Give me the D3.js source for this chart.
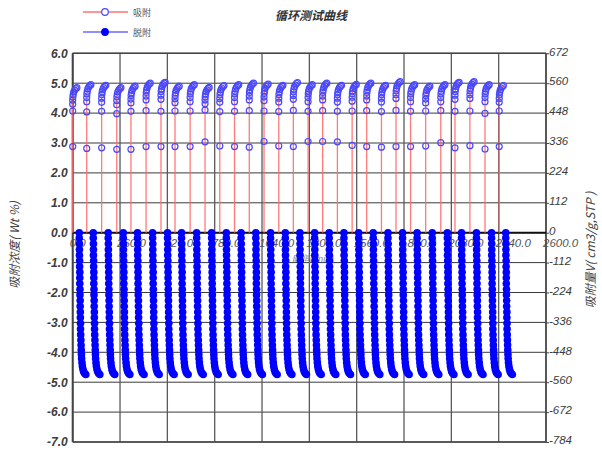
<!DOCTYPE html>
<html><head><meta charset="utf-8">
<script src="https://cdn.jsdelivr.net/npm/d3@7"></script>
<style>
body{margin:0;background:#fff;}
svg{display:block;font-family:"Liberation Sans",Arial,sans-serif;}
</style></head>
<body><svg id="c" width="602" height="470"></svg>
<script>
// ---- data ----
const title = "循环测试曲线";
const seriesNames = ["吸附", "脱附"];
const leftTitle = "吸附浓度( Wt %)";
const rightTitle = "吸附量V( cm3/g,STP )";
const xTitle = "时间(min)";
const xTicks = [0, 260, 520, 780, 1040, 1300, 1560, 1820, 2080, 2340, 2600];
const yTicks = [-7, -6, -5, -4, -3, -2, -1, 0, 1, 2, 3, 4, 5, 6];
const y2Ticks = [-784, -672, -560, -448, -336, -224, -112, 0, 112, 224, 336, 448, 560, 672];
// start time of each of the 30 cycles
const cycleStart = [0, 77, 159, 242, 320, 403, 485, 562, 645, 727, 808, 889, 970, 1051, 1132, 1212, 1293, 1373, 1454, 1535, 1615, 1696, 1776, 1856, 1939, 2022, 2100, 2182, 2265, 2343];
// adsorption: time offsets inside a cycle and values of each cycle
const adsDt = [0, 0, 0, 0, 0, 1, 3, 6, 11, 17, 23, 30];
const adsValues = [
  [0, 2.88, 4.07, 4.30, 4.43, 4.54, 4.63, 4.71, 4.77, 4.82, 4.85],
  [0, 2.82, 4.04, 4.38, 4.52, 4.64, 4.73, 4.81, 4.87, 4.92, 4.95],
  [0, 2.84, 4.06, 4.36, 4.50, 4.62, 4.71, 4.79, 4.85, 4.90, 4.93],
  [0, 2.79, 3.98, 4.28, 4.42, 4.54, 4.63, 4.71, 4.77, 4.82, 4.85],
  [0, 2.79, 4.06, 4.34, 4.47, 4.59, 4.68, 4.76, 4.82, 4.87, 4.90],
  [0, 2.88, 4.08, 4.44, 4.57, 4.69, 4.78, 4.86, 4.92, 4.97, 5.00],
  [0, 2.88, 4.06, 4.46, 4.60, 4.72, 4.81, 4.89, 4.95, 5.00, 5.03],
  [0, 2.88, 4.07, 4.35, 4.48, 4.59, 4.68, 4.76, 4.82, 4.87, 4.90],
  [0, 2.88, 4.07, 4.38, 4.52, 4.64, 4.73, 4.81, 4.87, 4.92, 4.95],
  [0, 3.04, 4.10, 4.31, 4.44, 4.55, 4.64, 4.72, 4.78, 4.83, 4.86],
  [0, 2.90, 4.05, 4.36, 4.49, 4.61, 4.70, 4.78, 4.84, 4.89, 4.92],
  [0, 2.88, 4.06, 4.38, 4.52, 4.64, 4.73, 4.81, 4.87, 4.92, 4.95],
  [0, 2.86, 4.08, 4.44, 4.57, 4.69, 4.78, 4.86, 4.92, 4.97, 5.00],
  [0, 3.05, 4.07, 4.41, 4.54, 4.66, 4.75, 4.83, 4.89, 4.94, 4.97],
  [0, 2.90, 4.05, 4.37, 4.50, 4.62, 4.71, 4.79, 4.85, 4.90, 4.93],
  [0, 2.88, 4.09, 4.46, 4.59, 4.71, 4.80, 4.88, 4.94, 4.99, 5.02],
  [0, 3.05, 4.06, 4.38, 4.52, 4.64, 4.73, 4.81, 4.87, 4.92, 4.95],
  [0, 3.05, 4.08, 4.44, 4.57, 4.69, 4.78, 4.86, 4.92, 4.97, 5.00],
  [0, 3.04, 4.06, 4.37, 4.50, 4.62, 4.71, 4.79, 4.85, 4.90, 4.93],
  [0, 2.92, 4.07, 4.40, 4.53, 4.65, 4.74, 4.82, 4.88, 4.93, 4.96],
  [0, 2.88, 4.08, 4.44, 4.57, 4.69, 4.78, 4.86, 4.92, 4.97, 5.00],
  [0, 2.86, 4.05, 4.37, 4.50, 4.62, 4.71, 4.79, 4.85, 4.90, 4.93],
  [0, 2.88, 4.09, 4.49, 4.62, 4.74, 4.83, 4.91, 4.97, 5.02, 5.05],
  [0, 2.88, 4.06, 4.38, 4.52, 4.64, 4.73, 4.81, 4.87, 4.92, 4.95],
  [0, 2.90, 4.07, 4.34, 4.47, 4.59, 4.68, 4.76, 4.82, 4.87, 4.90],
  [0, 3.01, 4.08, 4.38, 4.52, 4.64, 4.73, 4.81, 4.87, 4.92, 4.95],
  [0, 2.84, 4.06, 4.46, 4.60, 4.72, 4.81, 4.89, 4.95, 5.00, 5.03],
  [0, 2.91, 4.07, 4.49, 4.62, 4.74, 4.83, 4.91, 4.97, 5.02, 5.05],
  [0, 2.80, 3.99, 4.38, 4.52, 4.64, 4.73, 4.81, 4.87, 4.92, 4.95],
  [0, 2.88, 4.07, 4.36, 4.49, 4.61, 4.70, 4.78, 4.84, 4.89, 4.92]
];
// desorption: the same column shape is read in every cycle
const desDt = [36, 36, 37, 37, 37, 38, 38, 39, 39, 39, 40, 40, 41, 41, 42, 42, 43, 43, 44, 45, 46, 47, 48, 49, 51, 53, 56, 60, 65, 72];
const desValues = [0, -0.18, -0.37, -0.56, -0.75, -0.94, -1.13, -1.32, -1.51, -1.70, -1.89, -2.08, -2.27, -2.46, -2.65, -2.84, -3.03, -3.22, -3.41, -3.59, -3.76, -3.92, -4.07, -4.21, -4.34, -4.46, -4.56, -4.64, -4.70, -4.74];

// ---- drawing ----
const svg = d3.select("#c");
const L = 72.7, R = 546, T = 53.3, B = 442;
const x = d3.scaleLinear().domain([0, 2600]).range([L, R]);
const y = d3.scaleLinear().domain([-7, 6]).range([B, T]);
const y2 = d3.scaleLinear().domain([-784, 672]).range([B, T]);

const redCol = "#ff6b6b", blueCol = "#0000ff", markCol = "#4848ff";

// grid
const g = svg.append("g");
g.selectAll("line.h").data(yTicks).join("line")
  .attr("x1", L).attr("x2", R).attr("y1", d => y(d)).attr("y2", d => y(d))
  .attr("stroke", "#3a3a3a").attr("stroke-width", 1);
g.selectAll("line.v").data(xTicks).join("line")
  .attr("x1", d => x(d)).attr("x2", d => x(d)).attr("y1", T).attr("y2", B)
  .attr("stroke", "#5a5a5a").attr("stroke-width", 1.3);
// frame
g.append("line").attr("x1", L).attr("x2", L).attr("y1", T).attr("y2", B).attr("stroke", "#444").attr("stroke-width", 2);
g.append("line").attr("x1", R).attr("x2", R).attr("y1", T).attr("y2", B).attr("stroke", "#444").attr("stroke-width", 1.5);
g.append("line").attr("x1", L).attr("x2", R).attr("y1", T).attr("y2", T).attr("stroke", "#444").attr("stroke-width", 1.5);
g.append("line").attr("x1", L).attr("x2", R).attr("y1", B).attr("y2", B).attr("stroke", "#444").attr("stroke-width", 1.5);

// left axis labels
const la = svg.append("g").attr("transform", `translate(${L},0)`)
  .call(d3.axisLeft(y).tickValues(yTicks).tickFormat(d => d.toFixed(1)).tickSize(0).tickPadding(5));
la.select(".domain").remove();
la.selectAll("text").attr("font-size", 12).attr("font-weight", "bold").attr("font-style", "italic").attr("fill", "#3c3c3c")
  .attr("font-family", "Liberation Sans, Arial, sans-serif");

// right axis
const ra = svg.append("g").attr("transform", `translate(${R},0)`)
  .call(d3.axisRight(y2).tickValues(y2Ticks).tickFormat(d => String(d)).tickSize(3).tickPadding(0));
ra.select(".domain").remove();
ra.selectAll("line").attr("stroke", "#444");
ra.selectAll("text").attr("font-size", 11.5).attr("font-style", "italic").attr("fill", "#3c3c3c").attr("dy", "0.15em")
  .attr("font-family", "Liberation Sans, Arial, sans-serif");

// x labels at zero line
svg.append("g").selectAll("text").data(xTicks).join("text")
  .attr("x", d => x(d) - 3).attr("y", y(0) + 14)
  .attr("font-size", 11.5).attr("font-style", "italic").attr("fill", "#555")
  .text(d => d.toFixed(1));
svg.append("text").attr("x", 313).attr("y", 262).attr("text-anchor", "middle")
  .attr("font-size", 9.5).attr("font-style", "italic").attr("fill", "#888").text(xTitle);

// zero line
svg.append("line").attr("x1", L).attr("x2", R).attr("y1", y(0)).attr("y2", y(0)).attr("stroke", "#111").attr("stroke-width", 2);

// adsorption
const adsData = cycleStart.map((t0, i) => adsValues[i].map((v, j) => ({t: t0 + adsDt[j], v})));
const line = d3.line().x(d => x(d.t)).y(d => y(d.v));
const ads = svg.append("g");
ads.selectAll("path").data(adsData).join("path")
  .attr("d", line).attr("fill", "none").attr("stroke", redCol).attr("stroke-width", 1.3).attr("stroke-opacity", 0.9);
ads.selectAll("g").data(adsData).join("g").selectAll("circle")
  .data(d => d.filter(p => p.v > 0)).join("circle")
  .attr("cx", d => x(d.t)).attr("cy", d => y(d.v)).attr("r", 3)
  .attr("fill", "none").attr("stroke", markCol).attr("stroke-width", 1.2);

// desorption
const desData = cycleStart.map(t0 => desValues.map((v, j) => ({t: t0 + desDt[j], v})));
const des = svg.append("g");
des.selectAll("path").data(desData).join("path")
  .attr("d", line).attr("fill", "none").attr("stroke", blueCol).attr("stroke-width", 1);
des.selectAll("g").data(desData).join("g").selectAll("circle")
  .data(d => d).join("circle")
  .attr("cx", d => x(d.t)).attr("cy", d => y(d.v)).attr("r", 3.8).attr("fill", blueCol);

// title
svg.append("text").attr("x", 311).attr("y", 20).attr("text-anchor", "middle")
  .attr("font-size", 12).attr("font-weight", "bold").attr("font-style", "italic").attr("fill", "#333")
  .attr("font-family", "Noto Sans CJK SC, sans-serif").text(title);

// axis titles
svg.append("text").attr("transform", "translate(19,245) rotate(-90)").attr("text-anchor", "middle")
  .attr("font-size", 12).attr("font-style", "italic").attr("fill", "#444")
  .attr("font-family", "Noto Sans CJK SC, sans-serif").text(leftTitle);
svg.append("text").attr("transform", "translate(595,250) rotate(-90)").attr("text-anchor", "middle")
  .attr("font-size", 12).attr("font-style", "italic").attr("fill", "#444")
  .attr("font-family", "Noto Sans CJK SC, sans-serif").text(rightTitle);

// legend
const lg = svg.append("g");
const legY = [12, 32];
lg.selectAll("line").data(seriesNames).join("line")
  .attr("x1", 83).attr("x2", 128).attr("y1", (d, i) => legY[i]).attr("y2", (d, i) => legY[i])
  .attr("stroke", (d, i) => i === 0 ? "#ff7070" : "#6a6aff").attr("stroke-width", 1.3);
lg.selectAll("circle").data(seriesNames).join("circle")
  .attr("cx", 105).attr("cy", (d, i) => legY[i]).attr("r", 3.3)
  .attr("fill", (d, i) => i === 0 ? "#fff" : blueCol).attr("stroke", (d, i) => i === 0 ? markCol : blueCol).attr("stroke-width", 1.2);
lg.selectAll("text").data(seriesNames).join("text")
  .attr("x", 133).attr("y", (d, i) => legY[i] + 3.5)
  .attr("font-size", 9).attr("fill", "#555").attr("font-family", "Noto Sans CJK SC, sans-serif").text(d => d);
</script></body></html>
